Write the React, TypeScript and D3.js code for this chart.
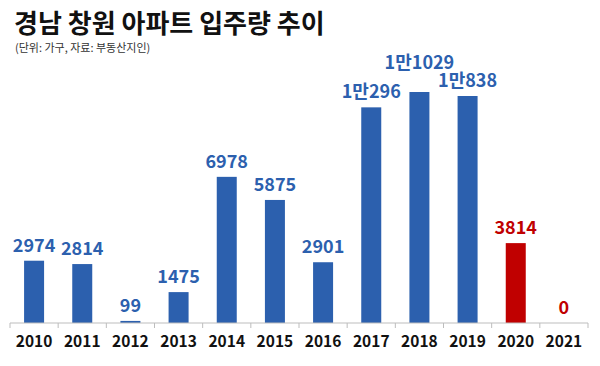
import React, { useEffect, useRef } from 'react';
import * as d3 from 'd3';

const years = ['2010', '2011', '2012', '2013', '2014', '2015', '2016', '2017', '2018', '2019', '2020', '2021'];
const units = [2974, 2814, 99, 1475, 6978, 5875, 2901, 10296, 11029, 10838, 3814, 0];
const labels = ['2974', '2814', '99', '1475', '6978', '5875', '2901', '1만296', '1만1029', '1만838', '3814', '0'];
const highlighted = ['2020', '2021'];

const FONT = '"Noto Sans CJK KR", "Noto Sans", sans-serif';

const App: React.FC = () => {
  const svgRef = useRef<SVGSVGElement | null>(null);

  useEffect(() => {
    if (!svgRef.current) return;
    const svg = d3.select(svgRef.current);
    svg.selectAll('*').remove();

    const width = 600;
    const margin = { left: 10, right: 12, baseline: 323, top: 92 };

    const x = d3.scaleBand<string>()
      .domain(years)
      .range([margin.left, width - margin.right]);

    const y = d3.scaleLinear()
      .domain([0, d3.max(units) as number])
      .range([margin.baseline, margin.top]);

    // title
    svg.append('text')
      .attr('x', 14).attr('y', 33)
      .attr('font-family', FONT).attr('font-weight', 700)
      .attr('font-size', 26).attr('fill', '#111')
      .text('경남 창원 아파트 입주량 추이');

    svg.append('text')
      .attr('x', 15).attr('y', 52)
      .attr('font-family', FONT).attr('font-size', 11).attr('fill', '#333')
      .text('(단위: 가구, 자료: 부동산지인)');

    const barW = 20;
    const colour = (yr: string) => (highlighted.includes(yr) ? '#c00000' : '#2c60ae');
    const cx = (d: string) => (x(d) as number) + x.bandwidth() / 2;

    svg.append('g').selectAll('rect')
      .data(years)
      .join('rect')
      .attr('x', d => cx(d) - barW / 2)
      .attr('width', barW)
      .attr('y', (d, i) => y(units[i]))
      .attr('height', (d, i) => margin.baseline - y(units[i]))
      .attr('fill', d => colour(d));

    const gap = 9;
    const valueLabels = svg.append('g').selectAll('text')
      .data(years)
      .join('text')
      .attr('x', d => cx(d))
      .attr('y', (d, i) => y(units[i]) - gap)
      .attr('text-anchor', 'middle')
      .attr('font-family', FONT).attr('font-weight', 700)
      .attr('font-size', 18)
      .attr('fill', d => colour(d))
      .text((d, i) => labels[i]);

    // lift a label above its neighbours when they would collide
    const lineH = 18;
    const nodes = valueLabels.nodes() as SVGTextElement[];
    const widths = nodes.map(n => n.getComputedTextLength());
    const ys = years.map((d, i) => y(units[i]) - gap);
    const order = d3.range(years.length).sort((a, b) => ys[b] - ys[a]);
    order.forEach(i => {
      [i - 1, i + 1].forEach(j => {
        if (j < 0 || j >= years.length) return;
        const overlapX = (widths[i] + widths[j]) / 2 > x.step();
        if (overlapX && ys[i] <= ys[j] && ys[j] - ys[i] < lineH) {
          ys[i] = ys[j] - lineH;
        }
      });
    });
    valueLabels.attr('y', (d, i) => ys[i]);

    // axis
    const axis = svg.append('g').attr('transform', `translate(0,${margin.baseline})`);
    axis.append('line')
      .attr('x1', margin.left).attr('x2', width - margin.right)
      .attr('stroke', '#bdbdbd').attr('stroke-width', 1);
    axis.selectAll('line.tick')
      .data([...years.map(d => x(d) as number), width - margin.right])
      .join('line')
      .attr('class', 'tick')
      .attr('x1', d => d).attr('x2', d => d)
      .attr('y1', 0).attr('y2', 5)
      .attr('stroke', '#bdbdbd');
    axis.selectAll('text')
      .data(years)
      .join('text')
      .attr('x', d => cx(d))
      .attr('y', 24)
      .attr('text-anchor', 'middle')
      .attr('font-family', FONT).attr('font-weight', 700)
      .attr('font-size', 15.5).attr('fill', '#111')
      .text(d => d);
  }, []);

  return <svg ref={svgRef} width={600} height={366} style={{ display: 'block', position: 'absolute', left: 0, top: 0, background: '#fff' }} />;
};

export default App;
